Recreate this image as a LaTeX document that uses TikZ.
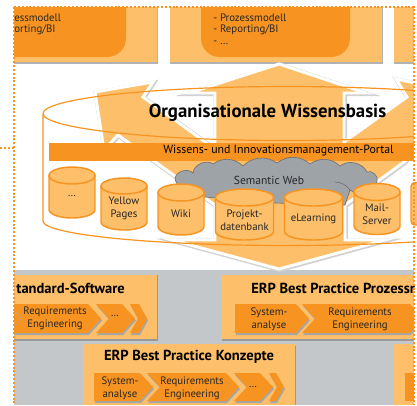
\documentclass[tikz,border=0pt]{standalone}
\usepackage{fontspec}
\setmainfont{PT Sans}
\usetikzlibrary{calc}
\definecolor{og}{HTML}{F79421}
\definecolor{lo}{HTML}{FDBF6A}
\definecolor{gb}{HTML}{C3C7CA}
\definecolor{cl}{HTML}{9EA3A8}
\tikzset{
  x=0.75pt,y=-0.75pt,
  lab/.style={font=\fontsize{8.1pt}{9.6pt}\selectfont,align=center,text=black!85,inner sep=0pt},
  ttl/.style={font=\bfseries\fontsize{10.9pt}{12pt}\selectfont,inner sep=0pt,text=black},
  db/.style={draw=og,line width=1.1pt,fill=lo},
  dotline/.style={og,line width=1.5pt,dash pattern=on 1.5pt off 1.4pt},
}
\newcommand{\dbase}[5]{% cx, top cy, rx, height, ry
  \path[db] (#1-#3,#2) -- (#1-#3,#2+#4) arc[start angle=180,end angle=360,x radius=#3*0.75pt,y radius=#5*0.75pt] -- (#1+#3,#2) -- cycle;
  \path[db] (#1,#2) ellipse[x radius=#3*0.75pt,y radius=#5*0.75pt];
}
\newcommand{\chev}[5]{% x0,y0,tip x,y1,depth
  \fill[black!35] (#1+1,#2+2) -- (#3-#5+1,#2+2) -- (#3+1,#2/2+#4/2+2) -- (#3-#5+1,#4+2) -- (#1+1,#4+2) -- cycle;
  \fill[og] (#1,#2) -- (#3-#5,#2) -- (#3,#2/2+#4/2) -- (#3-#5,#4) -- (#1,#4) -- cycle;
}
\newcommand{\chevn}[5]{%
  \fill[black!35] (#1+1,#2+2) -- (#3-#5+1,#2+2) -- (#3+1,#2/2+#4/2+2) -- (#3-#5+1,#4+2) -- (#1+1,#4+2) -- (#1+#5+1,#2/2+#4/2+2) -- cycle;
  \fill[og] (#1,#2) -- (#3-#5,#2) -- (#3,#2/2+#4/2) -- (#3-#5,#4) -- (#1,#4) -- (#1+#5,#2/2+#4/2) -- cycle;
}
\newcommand{\arrowshape}{(95,92) -- (153,82) -- (143,97) -- (215,149) -- (215,93) -- (189,93) -- (279,64) -- (366,93) -- (344,93) -- (344,142) -- (407,97) -- (396,79) -- (425,85) -- (425,140) -- (404,162) -- (345,205) -- (345,240) -- (385,240) -- (279,269) -- (172,240) -- (215,240) -- (215,205) -- (118,135) -- (104,150) -- cycle}
\begin{document}
\begin{tikzpicture}
\useasboundingbox (0,0) rectangle (417,405);
\fill[white] (0,0) rectangle (417,405);
\begin{scope}
\clip (14,7) rectangle (414,405);
% top panes
\fill[black!30] (14,7) rectangle (158,63.5);
\fill[lo] (14,7) rectangle (157,62);
\fill[og,rounded corners=14] (-40,-20) rectangle (126,57);
\fill[black!30] (170,7) rectangle (383,63.5);
\fill[lo] (169.5,7) rectangle (382,62);
\fill[og,rounded corners=14] (201,-20) rectangle (350,57);
\fill[black!30] (394,7) rectangle (420,63.5);
\fill[lo] (394,7) rectangle (420,62);
% grey band
\fill[gb] (14,270) rectangle (414,405);
% big arrows
\draw[black!18,line width=3.4pt,line join=miter,shift={(0.8,0.8)}] \arrowshape;
\draw[white,fill=lo,line width=2.2pt,line join=miter] \arrowshape;
% disk outline
\draw[og,line width=0.9pt] (43,113.5) arc[start angle=180,end angle=0,x radius=244*0.75pt,y radius=27*0.75pt];
\draw[og,line width=0.9pt] (43,113.5) arc[start angle=180,end angle=360,x radius=244*0.75pt,y radius=27*0.75pt];
\draw[og,line width=0.9pt] (43,113.5) -- (43,221) arc[start angle=180,end angle=360,x radius=244*0.75pt,y radius=24.5*0.75pt];
\end{scope}
\node[font=\bfseries\fontsize{14.1pt}{16pt}\selectfont,inner sep=0pt] (title) at (267.5,113) {Organisationale Wissensbasis};
% portal
\fill[og] (49,143) rectangle (414,161);
\node[lab,font=\fontsize{8.9pt}{10pt}\selectfont,text=black] (portal) at (278.5,150.5) {Wissens- und Innovationsmanagement-Portal};
% cloud
\path[draw=black!55,fill=cl,line width=0.5pt]
  (175,178) to[bend left=60] (193,173) to[bend left=60] (213,164) to[bend left=40] (243,166)
  to[bend left=40] (277,163) to[bend left=40] (310,164) to[bend left=40] (340,166)
  to[bend left=50] (367,172) to[bend left=70] (377,181) to[bend left=70] (367,188)
  to[bend left=50] (350,190) -- (345,205) -- (275,203) -- (205,197) to[bend left=30] (193,190) to[bend left=50] cycle;
\draw[black!55,line width=0.5pt] (335,182) to[bend left=25] (350,190);
\node[lab,font=\fontsize{8.7pt}{10pt}\selectfont] (webt) at (269,180) {Semantic Web};
% databases
\dbase{72}{175.5}{23}{34}{8.5}
\node[lab] (d1) at (72,196) {…};
\dbase{124}{186}{23}{36}{8}
\node[lab] (d2) at (124,208) {Yellow\\Pages};
\dbase{181}{192.5}{23}{34}{8.5}
\node[lab] (d3) at (181,214) {Wiki};
\dbase{244.5}{197.5}{29}{34}{8.5}
\node[lab] (d4) at (244.5,220) {Projekt-\\datenbank};
\dbase{313.5}{197.5}{29}{34}{8.5}
\node[lab] (d5) at (313.5,219) {eLearning};
\dbase{377}{192}{23}{34}{8.5}
\node[lab] (d6) at (377,214) {Mail-\\Server};
\path[db,rounded corners=3] (420,182.5) -- (411,182.5) -- (411,225) -- (420,225);
\begin{scope}
\clip (14,7) rectangle (414,405);
% bottom panes
\fill[black!40] (14,275) rectangle (158,341);
\fill[lo] (14,275) rectangle (157,339);
\fill[black!40] (222,275) rectangle (420,341);
\fill[lo] (221,275) rectangle (420,339);
\fill[black!40] (84,346) rectangle (296,405);
\fill[lo] (83,344) rectangle (295,405);
\fill[lo] (394,344) rectangle (420,405);
\fill[og] (405,373) rectangle (420,401);
% steps left
\chev{-20}{304}{21}{333}{13}
\chevn{9}{304}{101}{333}{13}
\chevn{96}{304}{135}{333}{13}
\chevn{130}{304}{147}{333}{8}
% steps right
\chev{235}{304}{309}{333}{13}
\chevn{302}{304}{423}{333}{13}
% steps mid
\chev{94}{373}{153}{401}{13}
\chevn{147}{373}{239}{401}{13}
\chevn{234}{373}{273}{401}{13}
\chevn{269}{373}{284}{401}{8}
\node[ttl,anchor=east] (t1) at (125,288) {tandard-Software};
\node[ttl,anchor=west] (t2) at (251,288) {ERP Best Practice Prozessr};
\node[lab,anchor=west] (e1) at (14,17.5) {essmodell};
\node[lab,anchor=west] (e2) at (14,29.5) {orting/BI};
\end{scope}
\node[ttl] (t3) at (189,357) {ERP Best Practice Konzepte};
\node[lab,anchor=west] (p1) at (213,17.5) {- Prozessmodell};
\node[lab,anchor=west] (p2) at (213,29.5) {- Reporting/BI};
\node[lab,anchor=west] (p3) at (213,43) {- …};
\node[lab] (r1) at (55,318) {Requirements\\Engineering};
\node[lab] (r2) at (115,316) {…};
\node[lab] (s1) at (269,319) {System-\\analyse};
\node[lab] (s2) at (360,319) {Requirements\\Engineering};
\node[lab] (m1) at (120,388.5) {System-\\analyse};
\node[lab] (m2) at (192,388.5) {Requirements\\Engineering};
\node[lab] (m3) at (253,387) {…};
% dotted frame
\draw[dotline] (14,7) -- (414,7) -- (414,405);
\draw[dotline] (14,7) -- (14,405);
\draw[dotline] (0,148) -- (14,148);
\end{tikzpicture}
\end{document}
